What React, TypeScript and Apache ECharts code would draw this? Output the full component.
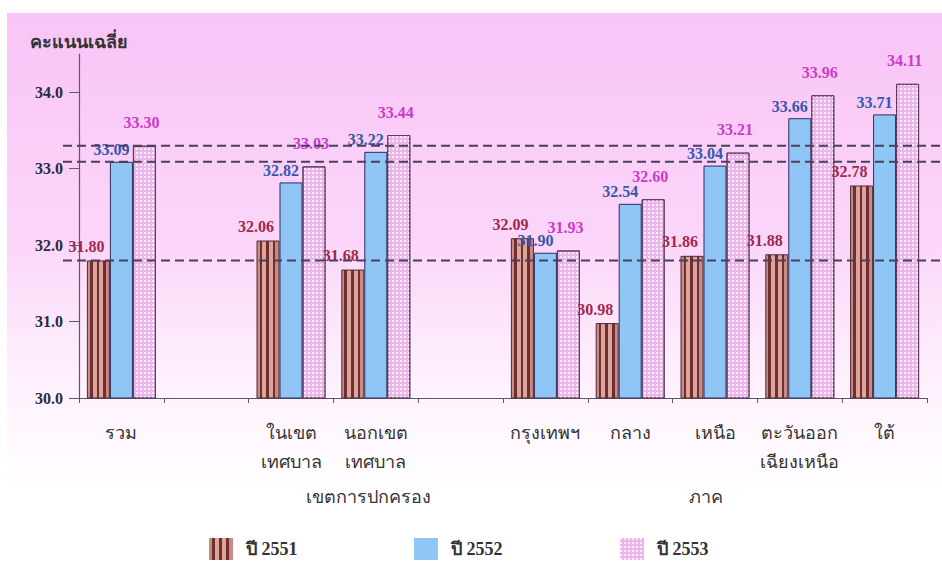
import React, { useEffect, useRef } from "react";
import * as echarts from "echarts";

const categories = [
  "รวม",
  "",
  "ในเขต\nเทศบาล",
  "นอกเขต\nเทศบาล",
  "",
  "กรุงเทพฯ",
  "กลาง",
  "เหนือ",
  "ตะวันออก\nเฉียงเหนือ",
  "ใต้",
];
const seriesNames = ["ปี 2551", "ปี 2552", "ปี 2553"];
const y2551 = [31.8, null, 32.06, 31.68, null, 32.09, 30.98, 31.86, 31.88, 32.78];
const y2552 = [33.09, null, 32.82, 33.22, null, 31.9, 32.54, 33.04, 33.66, 33.71];
const y2553 = [33.3, null, 33.03, 33.44, null, 31.93, 32.6, 33.21, 33.96, 34.11];
const refLines = [31.8, 33.09, 33.3];
const yTicks = [30, 31, 32, 33, 34];
const groupLabels = [
  { text: "เขตการปกครอง", cat: 3 },
  { text: "ภาค", cat: 7 },
];

const FONT = "'Liberation Serif', 'Times New Roman', serif";

export default function App() {
  const ref = useRef<HTMLDivElement>(null);

  useEffect(() => {
    document.body.style.margin = "0";
    if (!ref.current) return;
    const chart = echarts.init(ref.current, null, { renderer: "svg" });

    const stripe = new echarts.graphic.LinearGradient(0, 0, 1, 0, [
      { offset: 0, color: "#c98a84" },
      { offset: 0.12, color: "#c98a84" },
      { offset: 0.12, color: "#6e2f30" },
      { offset: 0.24, color: "#6e2f30" },
      { offset: 0.24, color: "#dca49a" },
      { offset: 0.42, color: "#dca49a" },
      { offset: 0.42, color: "#6e2f30" },
      { offset: 0.54, color: "#6e2f30" },
      { offset: 0.54, color: "#dca49a" },
      { offset: 0.72, color: "#dca49a" },
      { offset: 0.72, color: "#6e2f30" },
      { offset: 0.84, color: "#6e2f30" },
      { offset: 0.84, color: "#c98a84" },
      { offset: 1, color: "#c98a84" },
    ]);

    const labelBase = {
      show: true,
      position: "top" as const,
      fontFamily: FONT,
      fontWeight: "bold" as const,
      fontSize: 16,
      formatter: (p: any) => (p.value == null ? "" : Number(p.value).toFixed(2)),
    };

    const legendBase = {
      top: 538,
      padding: 0,
      itemWidth: 24,
      itemHeight: 22,
      icon: "rect",
      itemGap: 0,
      itemStyle: { borderWidth: 0 },
      textStyle: { fontFamily: FONT, fontSize: 18, fontWeight: "bold" as const, color: "#333", padding: [0, 0, 0, 8] },
    };

    chart.setOption({
      animation: false,
      backgroundColor: "transparent",
      grid: { left: 79, right: 15, top: 54, bottom: 163, containLabel: false },
      legend: [
        { ...legendBase, left: 209, data: [seriesNames[0]] },
        { ...legendBase, left: 414, data: [seriesNames[1]] },
        { ...legendBase, left: 620, data: [seriesNames[2]] },
      ],
      xAxis: {
        type: "category",
        data: categories,
        axisLine: { lineStyle: { color: "#5a5a6a", width: 1.2 } },
        axisTick: { show: true, length: 5, lineStyle: { color: "#5a5a6a" } },
        axisLabel: {
          interval: 0,
          margin: 20,
          fontFamily: FONT,
          fontSize: 18,
          color: "#333",
          lineHeight: 29,
        },
      },
      yAxis: {
        type: "value",
        min: 30,
        max: 34.5,
        interval: 1,
        name: "คะแนนเฉลี่ย",
        nameLocation: "end",
        nameGap: 3,
        nameTextStyle: { fontFamily: FONT, fontSize: 18, fontWeight: "bold", color: "#333" },
        axisLine: { show: true, lineStyle: { color: "#5a5a6a", width: 1.2 } },
        axisTick: { show: true, length: 10, lineStyle: { color: "#5a5a6a" }, customValues: yTicks },
        splitLine: { show: false },
        axisLabel: {
          customValues: yTicks,
          margin: 16,
          fontFamily: FONT,
          fontSize: 16,
          fontWeight: "bold",
          color: "#2a2a3a",
          formatter: (v: number) => v.toFixed(1),
        },
      },
      series: [
        {
          name: seriesNames[0],
          type: "bar",
          data: y2551,
          barWidth: 23,
          barGap: "0%",
          itemStyle: { color: stripe, borderColor: "#4a2a34", borderWidth: 1 },
          label: { ...labelBase, color: "#a0284a", distance: 6, offset: [-12, 0] },
        },
        {
          name: seriesNames[1],
          type: "bar",
          data: y2552,
          barWidth: 23,
          barGap: "0%",
          itemStyle: { color: "#90c6f6", borderColor: "#2c2c5c", borderWidth: 1 },
          label: { ...labelBase, color: "#3558a8", distance: 4, offset: [-10, 0] },
        },
        {
          name: seriesNames[2],
          type: "bar",
          data: y2553,
          barWidth: 23,
          barGap: "0%",
          itemStyle: {
            color: "#eab6ea",
            borderColor: "#5a3a5a",
            borderWidth: 1,
            decal: {
              symbol: "rect",
              symbolSize: 1,
              dashArrayX: [1.5, 1.5],
              dashArrayY: [1.5, 1.5],
              color: "rgba(255,255,255,0.75)",
            },
          },
          label: { ...labelBase, color: "#c83cc8", distance: 15, offset: [-3, 0] },
        },
      ],
    });

    const graphics: any[] = [];
    refLines.forEach((v) => {
      const y = chart.convertToPixel({ yAxisIndex: 0 }, v) as number;
      graphics.push({
        type: "line",
        z: 100,
        shape: { x1: 63, y1: y, x2: 942, y2: y },
        style: { stroke: "#4a3f5c", lineWidth: 2, lineDash: [9, 5] },
      });
    });
    const yBase = chart.convertToPixel({ yAxisIndex: 0 }, 30) as number;
    const groupDx = [-7, -9];
    groupLabels.forEach((g, i) => {
      const x = (chart.convertToPixel({ xAxisIndex: 0 }, g.cat) as number) + groupDx[i];
      graphics.push({
        type: "text",
        x,
        y: yBase + 99,
        style: {
          text: g.text,
          fontFamily: FONT,
          fontSize: 18,
          fill: "#333",
          align: "center",
          verticalAlign: "middle",
        },
      });
    });
    chart.setOption({ graphic: graphics });

    return () => chart.dispose();
  }, []);

  return (
    <div style={{ position: "relative", width: 942, height: 561, overflow: "hidden", background: "#fff" }}>
      <div
        style={{
          position: "absolute",
          left: 7,
          top: 13,
          right: 0,
          bottom: 0,
          background:
            "linear-gradient(to bottom, #f9c4f6 0px, #fbd6f9 230px, #fdeafc 330px, #fff5fe 400px, #ffffff 480px)",
        }}
      />
      <div ref={ref} style={{ position: "absolute", left: 0, top: 0, width: 942, height: 561 }} />
    </div>
  );
}
